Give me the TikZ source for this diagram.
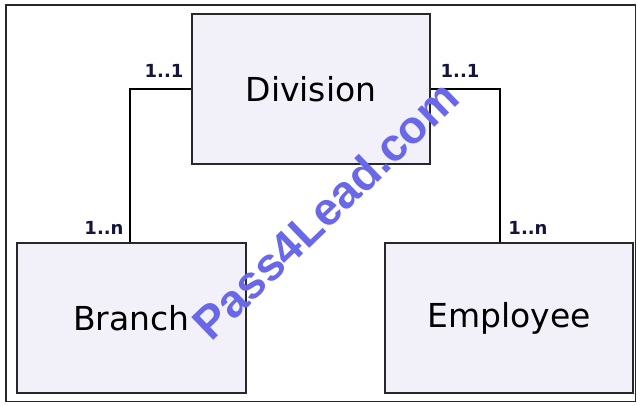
\documentclass[tikz,border=0pt]{standalone}
\usepackage{fontspec}
\setmainfont{DejaVu Sans}
\newfontfamily\wmfont{Liberation Sans}
\definecolor{boxfill}{RGB}{242,241,250}
\definecolor{framecol}{RGB}{40,40,40}
\definecolor{labcol}{RGB}{20,20,60}
\definecolor{wmcol}{RGB}{104,104,232}
\begin{document}
\begin{tikzpicture}[x=1pt,y=-1pt,
  entity/.style={draw=framecol,line width=1.3pt,fill=boxfill,inner sep=0pt,
    font=\fontsize{33}{33}\selectfont},
  mult/.style={font=\bfseries\fontsize{18}{18}\selectfont,text=labcol,inner sep=0pt},
  link/.style={draw=black,line width=1.1pt}]
\useasboundingbox (0,0) rectangle (637,405);
\fill[white] (0,0) rectangle (637,405);
\draw[framecol,line width=1.5pt] (6,5) rectangle (635.5,401.5);
\node[entity,minimum width=238pt,minimum height=150pt] (div) at (311,89) {Division};
\node[entity,minimum width=229pt,minimum height=150pt] (br) at (131.5,318) {Branch};
\node[entity,minimum width=248pt,minimum height=150pt] (emp) at (509,318) {Employee};
\draw[link] (div.west) -| ([xshift=-1.5pt]br.north);
\draw[link] (div.east) -| ([xshift=-9pt]emp.north);
\node[mult] (l11) at (164,71) {1..1};
\node[mult] (r11) at (460,71) {1..1};
\node[mult] (l1n) at (104,228) {1..n};
\node[mult] (r1n) at (528,228) {1..n};
\node[rotate=44,text=wmcol,font=\wmfont\bfseries\fontsize{46}{46}\selectfont,inner sep=0pt] (wm) at (325,210) {Pass4Lead.com};
\end{tikzpicture}
\end{document}
